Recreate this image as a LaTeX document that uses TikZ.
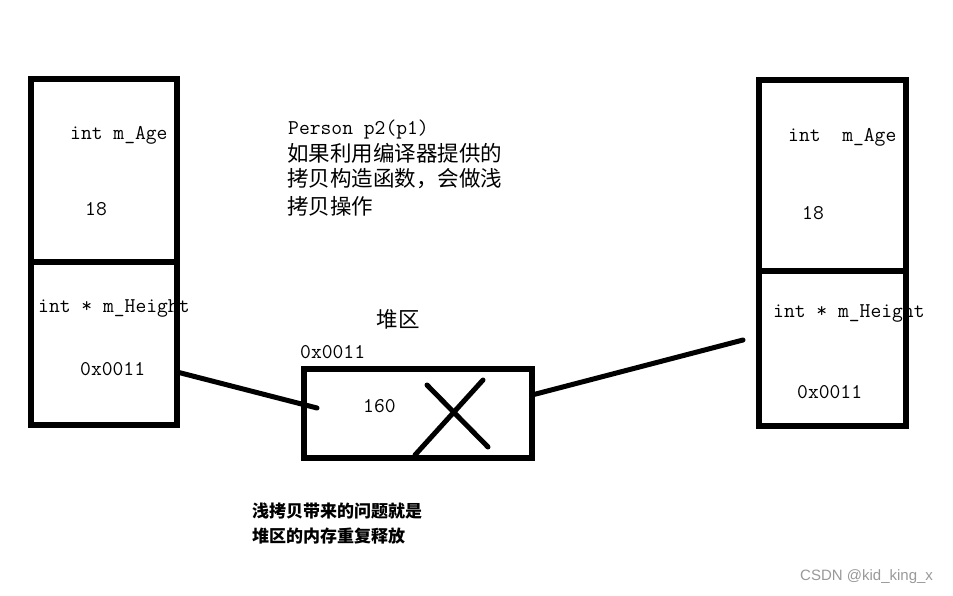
\documentclass[tikz,border=0pt]{standalone}
\usepackage{fontspec}
\newfontfamily\cjk{Noto Sans CJK SC}
\newfontfamily\wmfont{Liberation Sans}
\begin{document}
\begin{tikzpicture}[x=1pt,y=-1pt,
  cell/.style={draw, line width=6pt, inner sep=0pt, outer sep=0pt},
  conn/.style={line width=5pt, line cap=round},
  mono/.style={font=\fontsize{21}{21}\selectfont\ttfamily, inner sep=0pt, anchor=base west},
  cjktxt/.style={font=\fontsize{21.5}{21.5}\selectfont\cjk, inner sep=0pt, anchor=west},
  note/.style={font=\fontsize{17}{17}\selectfont\cjk\bfseries, inner sep=0pt, anchor=west},
  wmark/.style={font=\fontsize{15}{15}\selectfont\wmfont, text=black!40, inner sep=0pt, anchor=west}]
\useasboundingbox[fill=white] (0,0) rectangle (953,596);
% left object
\node[cell, minimum width=146pt, minimum height=183pt] (ltop) at (104,170.5) {};
\node[cell, minimum width=146pt, minimum height=163pt] (lbot) at (104,343.5) {};
% right object
\node[cell, minimum width=147pt, minimum height=191pt] (rtop) at (832.5,175.5) {};
\node[cell, minimum width=147pt, minimum height=155pt] (rbot) at (832.5,348.5) {};
% heap
\node[cell, minimum width=228pt, minimum height=89pt] (heap) at (418,413.5) {};
% left texts
\node[mono] (la) at (70,140) {int m\_Age};
\node[mono] (lv) at (85,215) {18};
\node[mono] (lh) at (38,312) {int * m\_Height};
\node[mono] (lp) at (80,375) {0x0011};
% right texts
\node[mono] (ra) at (788,142) {int\ \ m\_Age};
\node[mono] (rv) at (802,219) {18};
\node[mono] (rh) at (773,317) {int * m\_Height};
\node[mono] (rp) at (797,398) {0x0011};
% heap texts
\node[cjktxt, anchor=center] (hl) at (398,319) {堆区};
\node[mono] (ha) at (300,358) {0x0011};
\node[mono] (hv) at (363,412) {160};
% middle texts
\node[mono] (m1) at (288,135) {Person p2(p1)};
\node[cjktxt] (m2) at (287,153) {如果利用编译器提供的};
\node[cjktxt] (m3) at (287,179) {拷贝构造函数，会做浅};
\node[cjktxt] (m4) at (287,206) {拷贝操作};
% bottom note
\node[note] (b1) at (252,511) {浅拷贝带来的问题就是};
\node[note] (b2) at (252,536) {堆区的内存重复释放};
% watermark
\node[wmark] (wm) at (800,577) {CSDN @kid\_king\_x};
% connectors
\coordinate (lend) at (317,408);
\coordinate (rend) at (743,340);
\draw[conn] ([yshift=-28.5pt]lbot.east) -- (lend);
\draw[conn] ([yshift=18.5pt]heap.east) -- (rend);
% cross
\draw[conn] (427,385) -- (488,447);
\draw[conn] (483,380) -- (415,455);
\end{tikzpicture}
\end{document}
